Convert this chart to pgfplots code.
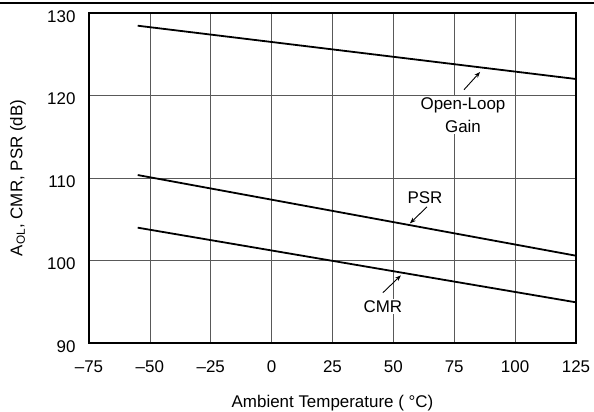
\documentclass[border=0pt]{standalone}
\usepackage{fontspec}
\setmainfont{Liberation Sans}
\usepackage{pgfplots}
\pgfplotsset{compat=1.18}
\usetikzlibrary{arrows.meta}
\begin{document}
\begin{tikzpicture}
\begin{axis}[
  scale only axis,
  width=487bp, height=330bp,
  xmin=-75, xmax=125, ymin=90, ymax=130,
  xtick={-75,-50,-25,0,25,50,75,100,125},
  xticklabels={\textendash75,\textendash50,\textendash25,0,25,50,75,100,125},
  ytick={90,100,110,120,130},
  major tick length=0pt,
  grid=major,
  major grid style={black!65, line width=0.7bp},
  axis line style={line width=1.8bp},
  tick label style={font=\fontsize{17}{20}\selectfont},
  /pgf/number format/assume math mode=true,
  yticklabel style={xshift=-10bp, yshift=-3.5bp},
  xticklabel style={yshift=-14bp},
  xlabel={Ambient Temperature ( °C)},
  ylabel={A\textsubscript{OL}, CMR, PSR (dB)},
  every axis x label/.style={at={([yshift=-60bp]axis description cs:0.5,0)}, anchor=center, font=\fontsize{17}{20}\selectfont},
  every axis y label/.style={at={([xshift=-71bp]axis description cs:0,0.5)}, anchor=center, rotate=90, font=\fontsize{17}{20}\selectfont},
  clip=false,
]
\addplot[black, line width=1.8bp] coordinates {(-55,128.46) (125,122.0)};
\addplot[black, line width=1.8bp] coordinates {(-55,110.36) (125,100.58)};
\addplot[black, line width=1.8bp] coordinates {(-55,103.98) (125,94.93)};
\node[fill=white, align=center, inner sep=1.5bp, font=\fontsize{17}{23}\selectfont] at (axis cs:78.6,117.6) {Open-Loop\\Gain};
\draw[line width=0.9bp, -{Stealth[length=6bp,width=4.5bp]}] (axis cs:79,120.7) -- (axis cs:85.6,122.85);
\node[fill=white, inner sep=1.5bp, font=\fontsize{17}{20}\selectfont] at (axis cs:63,107.6) {PSR};
\draw[line width=0.9bp, -{Stealth[length=6bp,width=4.5bp]}] (axis cs:63.8,106.5) -- (axis cs:56.8,104.5);
\node[fill=white, inner sep=1.5bp, font=\fontsize{17}{20}\selectfont] at (axis cs:45.7,94.4) {CMR};
\draw[line width=0.9bp, -{Stealth[length=6bp,width=4.5bp]}] (axis cs:45.7,96.1) -- (axis cs:53.1,98.2);
\draw[line width=1.1bp] ([yshift=10bp,xshift=-89bp]rel axis cs:0,1) -- ([yshift=10bp,xshift=18bp]rel axis cs:1,1);
\end{axis}
\pgfresetboundingbox
\path[use as bounding box] (-89bp,-69bp) rectangle (505bp,343bp);
\end{tikzpicture}
\end{document}
